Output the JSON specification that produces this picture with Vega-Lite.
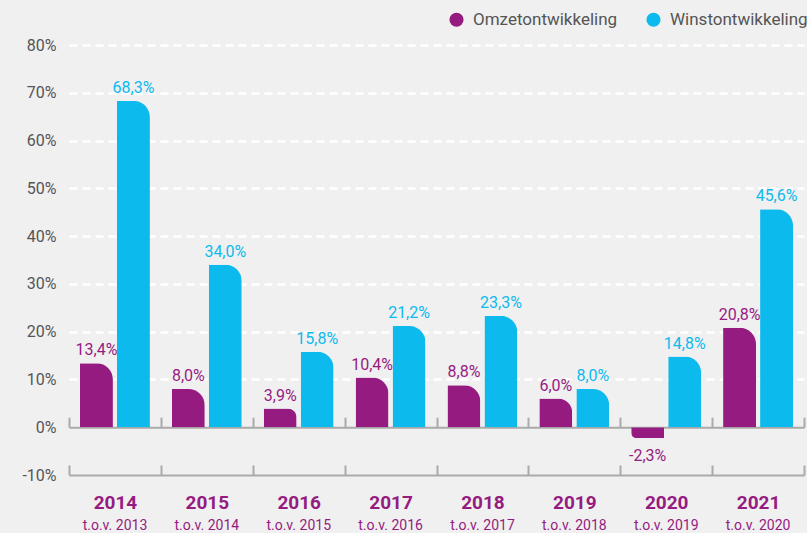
{
  "$schema": "https://vega.github.io/schema/vega-lite/v6.json",
  "width": 735,
  "height": 430,
  "autosize": {"type": "none"},
  "padding": {"left": 69, "top": 45, "right": 3, "bottom": 58},
  "background": "#f0f0f0",
  "config": {
    "view": {"stroke": null},
    "font": "Roboto",
    "locale": {"number": {"decimal": ",", "thousands": ".", "grouping": [3], "currency": ["€", ""], "minus": "-"}}
  },
  "data": {"values": [
    {"year": "2014", "series": "Omzetontwikkeling", "value": 0.134},
    {"year": "2014", "series": "Winstontwikkeling", "value": 0.683},
    {"year": "2015", "series": "Omzetontwikkeling", "value": 0.080},
    {"year": "2015", "series": "Winstontwikkeling", "value": 0.340},
    {"year": "2016", "series": "Omzetontwikkeling", "value": 0.039},
    {"year": "2016", "series": "Winstontwikkeling", "value": 0.158},
    {"year": "2017", "series": "Omzetontwikkeling", "value": 0.104},
    {"year": "2017", "series": "Winstontwikkeling", "value": 0.212},
    {"year": "2018", "series": "Omzetontwikkeling", "value": 0.088},
    {"year": "2018", "series": "Winstontwikkeling", "value": 0.233},
    {"year": "2019", "series": "Omzetontwikkeling", "value": 0.060},
    {"year": "2019", "series": "Winstontwikkeling", "value": 0.080},
    {"year": "2020", "series": "Omzetontwikkeling", "value": -0.023},
    {"year": "2020", "series": "Winstontwikkeling", "value": 0.148},
    {"year": "2021", "series": "Omzetontwikkeling", "value": 0.208},
    {"year": "2021", "series": "Winstontwikkeling", "value": 0.456}
  ]},
  "encoding": {
    "xOffset": {"field": "series", "type": "nominal", "scale": {"paddingInner": 0.108, "paddingOuter": 0.296}},
    "y": {"field": "value", "type": "quantitative", "scale": {"domain": [-0.1, 0.8], "nice": false, "zero": false}},
    "color": {
      "field": "series", "type": "nominal",
      "scale": {"domain": ["Omzetontwikkeling", "Winstontwikkeling"], "range": ["#951b81", "#0dbaed"]},
      "legend": {
        "title": null, "orient": "none", "direction": "horizontal", "legendX": 379, "legendY": -34,
        "symbolType": "circle", "symbolSize": 200, "symbolStrokeWidth": 0,
        "labelFontSize": 17, "labelColor": "#555555", "labelFont": "Roboto", "columnPadding": 27, "labelOffset": 8
      }
    }
  },
  "resolve": {"axis": {"x": "independent"}},
  "layer": [
    {
      "transform": [{"filter": "datum.value >= 0"}],
      "mark": {"type": "bar", "cornerRadiusTopRight": 33},
      "encoding": {
        "x": {"field": "year", "type": "nominal", "scale": {"paddingInner": 0, "paddingOuter": 0},
          "axis": {"orient": "bottom", "title": null, "labelAngle": 0, "tickBand": "extent", "tickSize": -10,
            "domainColor": "#aaaaaa", "domainWidth": 2, "tickColor": "#aaaaaa", "tickWidth": 2,
            "labelFontSize": 19, "labelFontWeight": "bold", "labelColor": "#951b81", "labelPadding": 37, "labelBaseline": "middle"}},
        "y": {"field": "value", "type": "quantitative",
          "axis": {"title": null, "format": ".0%", "values": [-0.1, 0, 0.1, 0.2, 0.3, 0.4, 0.5, 0.6, 0.7, 0.8],
            "domain": false, "ticks": false, "labelFontSize": 16, "labelColor": "#555555", "labelPadding": 13,
            "gridColor": "#ffffff", "gridWidth": 2.5, "gridDash": [8, 5],
            "gridOpacity": {"condition": {"test": "datum.value <= 0.001", "value": 0}, "value": 1}}}
      }
    },
    {
      "transform": [{"filter": "datum.value < 0"}],
      "mark": {"type": "bar", "cornerRadiusBottomLeft": 33},
      "encoding": {
        "x": {"field": "year", "type": "nominal",
          "axis": {"orient": "bottom", "offset": -47.78, "title": null, "labels": false, "tickBand": "extent", "tickSize": -10,
            "domainColor": "#aaaaaa", "domainWidth": 2, "tickColor": "#aaaaaa", "tickWidth": 2}}
      }
    },
    {
      "transform": [{"filter": "datum.value >= 0"}],
      "mark": {"type": "text", "baseline": "alphabetic", "dy": -8, "fontSize": 16},
      "encoding": {
        "x": {"field": "year", "type": "nominal",
          "axis": {"orient": "bottom", "title": null, "domain": false, "ticks": false, "labelAngle": 0,
            "labelExpr": "'t.o.v. ' + (toNumber(datum.value) - 1)", "labelFontSize": 14, "labelColor": "#951b81",
            "labelPadding": 50, "labelBaseline": "middle"}},
        "text": {"field": "value", "type": "quantitative", "format": ".1%"}
      }
    },
    {
      "transform": [{"filter": "datum.value < 0"}],
      "mark": {"type": "text", "baseline": "top", "dy": 10, "fontSize": 16},
      "encoding": {
        "x": {"field": "year", "type": "nominal", "axis": null},
        "text": {"field": "value", "type": "quantitative", "format": ".1%"}
      }
    }
  ]
}
